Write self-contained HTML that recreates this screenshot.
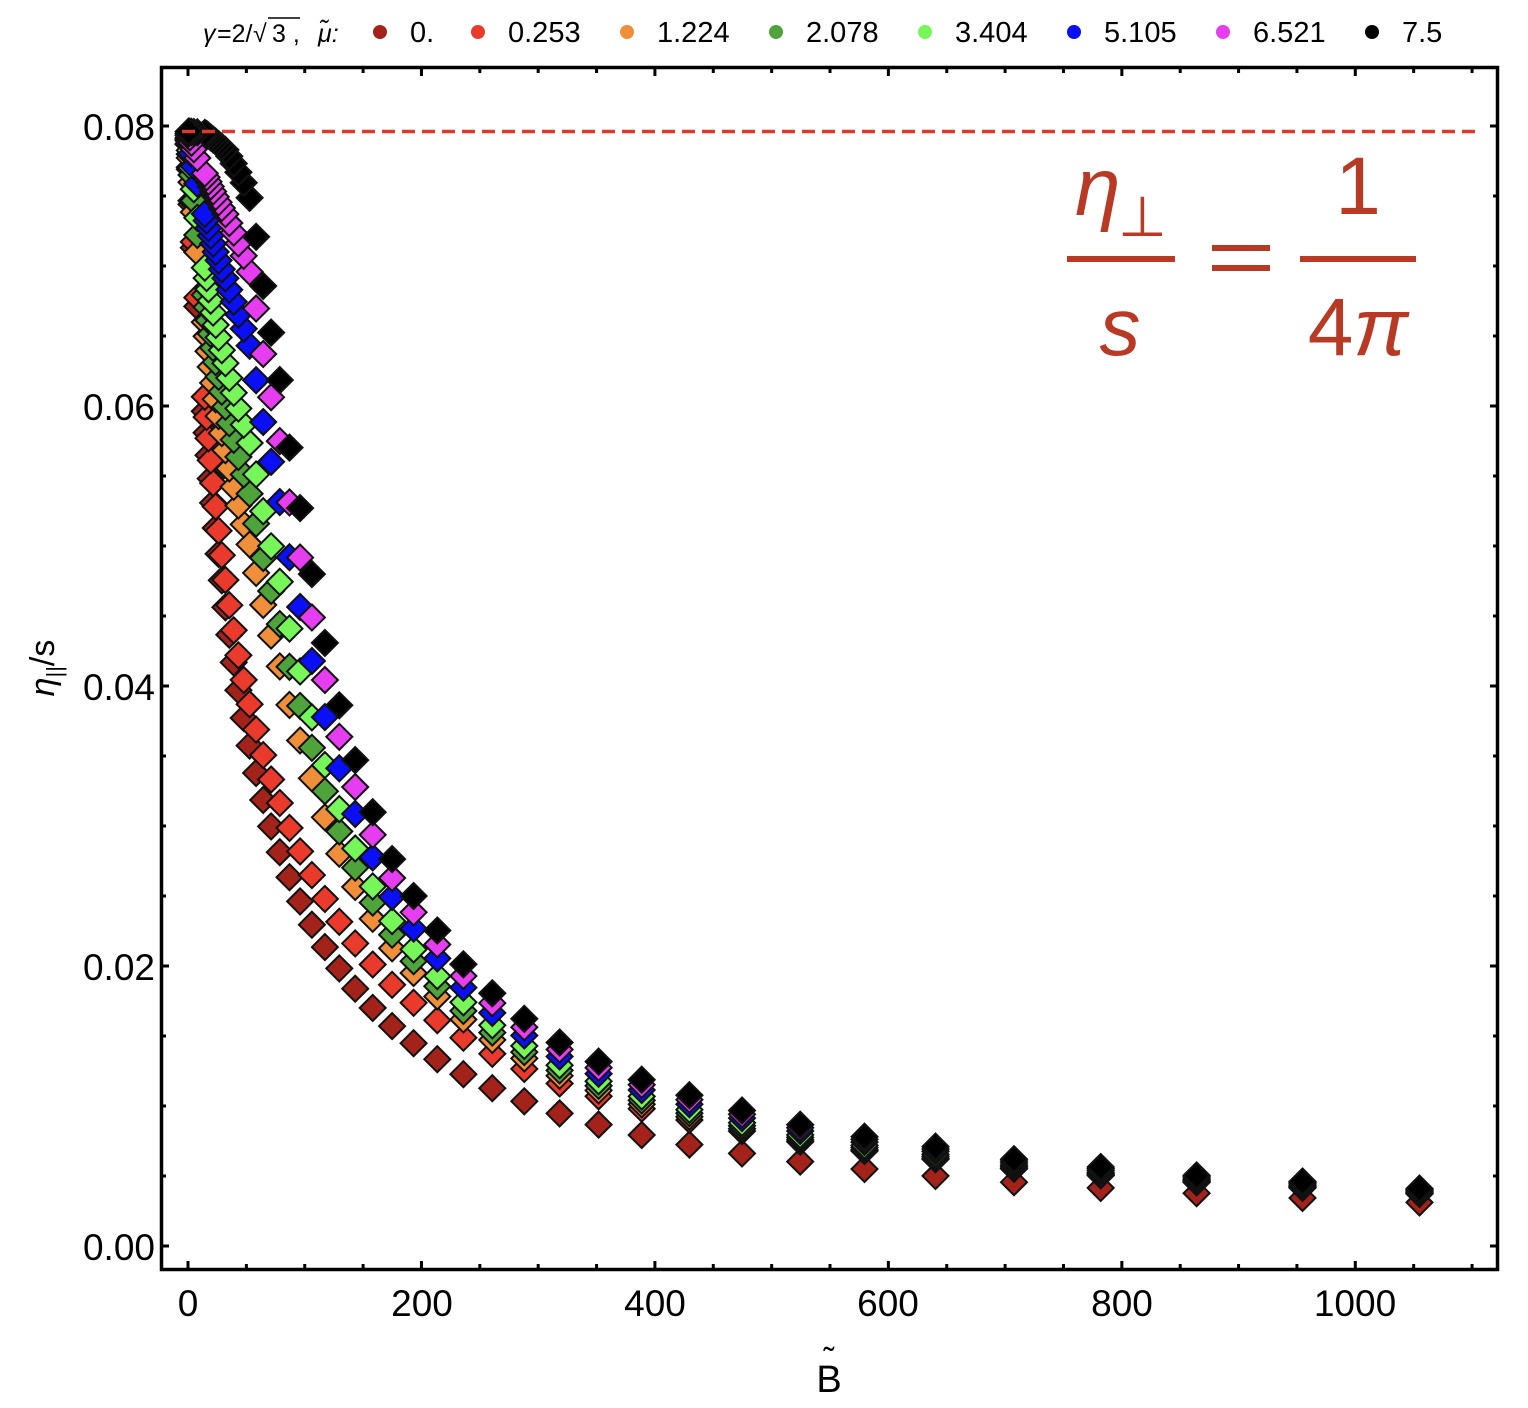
<!DOCTYPE html>
<html><head><meta charset="utf-8"><style>
html,body{margin:0;padding:0;background:#fff}
svg{display:block}
text{font-family:"Liberation Sans",sans-serif}
</style></head><body>
<svg id="s" width="1528" height="1408" xmlns="http://www.w3.org/2000/svg">
<rect width="1528" height="1408" fill="#fff"/>
<g id="pts"></g>
<line x1="182" y1="131.5" x2="1476" y2="131.5" stroke="#e0382a" stroke-width="3.5" stroke-dasharray="13,7"/>
<rect x="161.5" y="67.5" width="1336" height="1202" fill="none" stroke="#000" stroke-width="3.5"/>
<g id="ticks" stroke="#000" stroke-width="3"></g>
<g font-size="37" fill="#000" text-anchor="end">
<text x="155" y="140">0.08</text><text x="155" y="420">0.06</text><text x="155" y="700">0.04</text><text x="155" y="980">0.02</text><text x="155" y="1260">0.00</text>
</g>
<g font-size="37" fill="#000" text-anchor="middle">
<text x="188" y="1316">0</text><text x="422" y="1316">200</text><text x="655" y="1316">400</text><text x="888" y="1316">600</text><text x="1122" y="1316">800</text><text x="1355" y="1316">1000</text>
</g>
<text x="829" y="1392" font-size="38" text-anchor="middle">B</text>
<text x="829" y="1370" font-size="32" text-anchor="middle">˜</text>
<text transform="translate(54,668) rotate(-90)" font-size="34" text-anchor="middle"><tspan font-style="italic">η</tspan><tspan font-size="22" dy="8">||</tspan><tspan dy="-8">/s</tspan></text>
<g fill="#b83a25" font-family="'Liberation Serif',serif">
<text x="1075" y="215" font-size="82" font-style="italic">η</text>
<text x="1118" y="236" font-size="56">⊥</text>
<rect x="1067" y="256" width="108" height="6"/>
<text x="1120" y="355" font-size="82" font-style="italic" text-anchor="middle">s</text>
<rect x="1212" y="245" width="58" height="6"/>
<rect x="1212" y="265" width="58" height="6"/>
<rect x="1300" y="256" width="116" height="6"/>
<text x="1358" y="214" font-size="82" text-anchor="middle">1</text>
<text x="1358" y="355" font-size="82" text-anchor="middle">4<tspan font-style="italic">π</tspan></text>
</g>
<g fill="#000">
<text x="203" y="42" font-size="25" font-style="italic">γ</text>
<text x="217" y="42" font-size="25">=2/</text>
<text x="253" y="42" font-size="25">√</text>
<line x1="268" y1="18" x2="300" y2="18" stroke="#000" stroke-width="1.5"/>
<text x="272" y="42" font-size="25">3 ,</text>
<text x="318" y="42" font-size="25" font-style="italic">μ̃:</text>
</g>
<g id="leg" font-size="29" fill="#000"></g>
</svg>
<script>
const X=b=>188+b*1.1673, Y=e=>1246-e*14000;
const cols=["#a3231b","#ea3a2c","#ef8f3a","#4ea43a","#77f65a","#0a0ff5","#e73df0","#000000"];
const labs=["0.","0.253","1.224","2.078","3.404","5.105","6.521","7.5"];
const legx=[380,478,627,776,925,1074,1223,1372];
let h="";
for(let i=0;i<8;i++){h+=`<circle cx="${legx[i]}" cy="32" r="7" fill="${cols[i]}"/><text x="${legx[i]+30}" y="42">${labs[i]}</text>`;}
document.getElementById("leg").innerHTML=h;
let t="";
for(let k=0;k<=16;k++){const y=Y(k*0.005);const L=k%4==0?8:5;t+=`<line x1="161" y1="${y}" x2="${161+L}" y2="${y}"/><line x1="1498" y1="${y}" x2="${1498-L}" y2="${y}"/>`;}
for(let k=0;k<=22;k++){const x=X(k*50);if(x>1495)break;const L=k%4==0?8:5;t+=`<line x1="${x}" y1="1269" x2="${x}" y2="${1269-L}"/><line x1="${x}" y1="68" x2="${x}" y2="${68+L}"/>`;}
document.getElementById("ticks").innerHTML=t;
const blk=[[0,0.0796],[15,0.0795],[32,0.0783],[40,0.0772],[47,0.0761],[55,0.0744],[60,0.0709],[68,0.0667],[79,0.0617],[88,0.0564],[100,0.0509],[111,0.0457],[123,0.0407],[137,0.0363],[153,0.0322],[169,0.0285],[190,0.0254],[212,0.0227],[235,0.0202],[260,0.0181],[290,0.0161],[319,0.0145],[356,0.0130],[394,0.0117],[436,0.0106],[482,0.0095],[533,0.0085],[587,0.0077],[649,0.0070],[715,0.0061],[788,0.0056],[870,0.0050],[957,0.0046],[1054,0.0041],[1200,0.0036]];
function eb(B){for(let i=1;i<blk.length;i++){if(B<=blk[i][0]){const a=blk[i-1],b=blk[i];return a[1]+(b[1]-a[1])*(B-a[0])/(b[0]-a[0]);}}return 0.004;}
const ed=B=>0.0796/(1+B/43);
const lo=[0,0,0.3,0.4,0.5,0.7,0.85,1], hi=[0,0.62,0.75,0.8,0.85,0.9,0.95,1];
let p="";
for(let k=0;k<8;k++){
 const Bs=[];
 for(let n=0;n<44;n++)Bs.push(1055/Math.pow(1.105,n));
 Bs.push(8,5,3,1.5,0.5);
 for(const B of Bs){
  let w;
  if(k==1){w=0.05+0.6*B*B/(B*B+250*250);}
  else w=lo[k]+(hi[k]-lo[k])*B/(B+300);
  const e=ed(B)+w*(eb(B)-ed(B));
  const x=X(B),y=Y(e),r=13;
  p+=`<path d="M${x.toFixed(1)} ${(y-r).toFixed(1)}L${(x+r).toFixed(1)} ${y.toFixed(1)}L${x.toFixed(1)} ${(y+r).toFixed(1)}L${(x-r).toFixed(1)} ${y.toFixed(1)}Z" fill="${cols[k]}" stroke="#111" stroke-width="2"/>`;
 }
}
document.getElementById("pts").innerHTML=p;
</script>
</body></html>
